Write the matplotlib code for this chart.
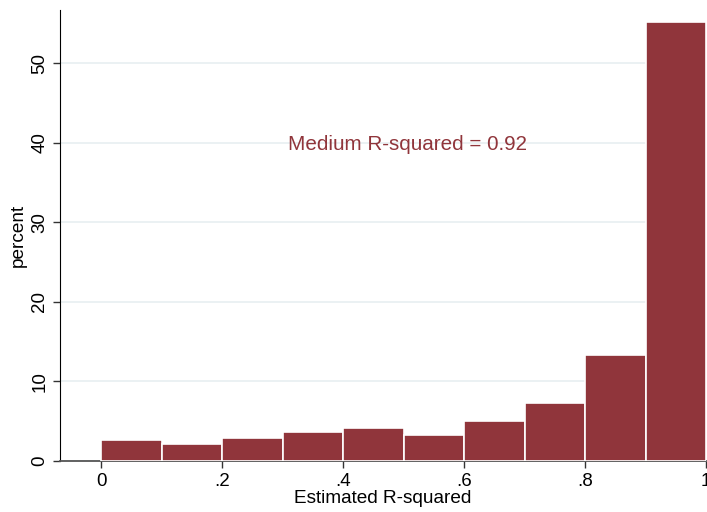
import numpy as np
import matplotlib.pyplot as plt

plt.rcParams['font.family'] = ['Liberation Sans', 'DejaVu Sans']

bin_edges = [0.0, 0.1, 0.2, 0.3, 0.4, 0.5, 0.6, 0.7, 0.8, 0.9, 1.0]
percent = [2.64, 2.18, 2.89, 3.64, 4.14, 3.27, 5.03, 7.29, 13.3, 55.15]
xticks = [0, 0.2, 0.4, 0.6, 0.8, 1.0]
xtick_labels = ['0', '.2', '.4', '.6', '.8', '1']
yticks = [0, 10, 20, 30, 40, 50]
note = 'Medium R-squared = 0.92'

bar_color = '#90353b'

fig = plt.figure(figsize=(7.07, 5.12), dpi=100)
ax = fig.add_axes([0.0849, 0.0996, 0.9137, 0.881])

left = np.array(bin_edges[:-1])
width = np.diff(bin_edges)
ax.bar(left, percent, width=width, align='edge', color=bar_color,
       edgecolor='white', linewidth=1.2, zorder=3)

ax.set_xlim(-0.068, 1.0)
ax.set_ylim(0, 56.7)
ax.set_xticks(xticks)
ax.set_xticklabels(xtick_labels)
ax.set_yticks(yticks)
ax.set_yticklabels([str(v) for v in yticks], rotation=90, va='center')
ax.tick_params(labelsize=13.5, length=5, width=1, color='#333333')
ax.yaxis.grid(True, color='#e8eff1', linewidth=1.2, zorder=0)

for s in ['top', 'right']:
    ax.spines[s].set_visible(False)
ax.spines['left'].set_color('black')
ax.spines['bottom'].set_color('#555555')
ax.spines['bottom'].set_linewidth(1.3)

ax.set_xlabel('Estimated R-squared', fontsize=13.7, labelpad=0)
ax.set_ylabel('percent', fontsize=13.7, labelpad=3)

ax.text(0.507, 39.8, note, color=bar_color, fontsize=14.9,
        ha='center', va='center')

fig.savefig('out.png', dpi=100)
